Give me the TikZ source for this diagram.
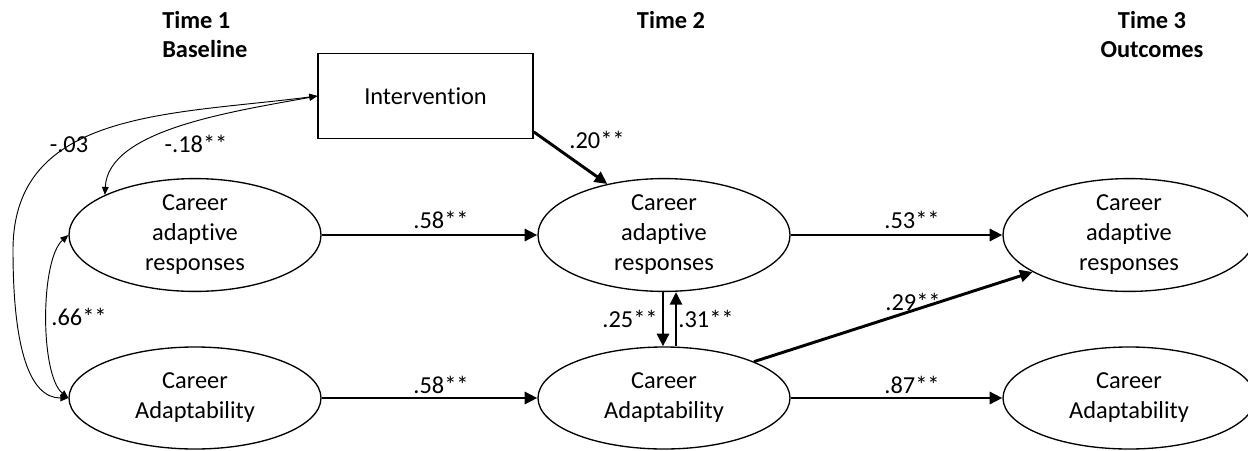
\documentclass[tikz,border=0pt]{standalone}
\usepackage{fontspec}
\setmainfont{Carlito}[Ligatures={NoCommon,NoRequired,NoContextual}]
\usetikzlibrary{shapes.geometric,arrows.meta}
\begin{document}
\begin{tikzpicture}[x=0.75pt,y=-0.75pt,
  every node/.style={font=\fontsize{18.3}{22.5}\selectfont},
  lat/.style={ellipse,draw,line width=1pt,minimum width=189pt,minimum height=76.5pt,inner sep=0pt,align=center},
  obs/.style={rectangle,draw,line width=1pt,minimum width=161.25pt,minimum height=63.75pt},
  hdr/.style={font=\fontsize{18.3}{22.5}\selectfont\bfseries,inner sep=0pt},
  lbl/.style={anchor=base,inner sep=0pt},
  thickarr/.style={line width=2.2pt,-{Triangle[length=9.5pt,width=9pt]}},
  cov/.style={line width=0.7pt,{Triangle[length=6pt,width=5pt]}-{Triangle[length=6pt,width=5pt]}}
]
\useasboundingbox (0,0) rectangle (1248,450);

% headers
\node[hdr,anchor=base west] (h1a) at (162,28) {Time 1};
\node[hdr,anchor=base west] (h1b) at (162,57) {Baseline};
\node[hdr,anchor=base] (h2) at (671,28) {Time 2};
\node[hdr,anchor=base] (h3a) at (1152,28) {Time 3};
\node[hdr,anchor=base] (h3b) at (1152,57) {Outcomes};

% nodes
\node[obs] (int) at (425.5,96) {Intervention};
\node[lat] (t1car) at (195,235) {Career\\adaptive\\responses};
\node[lat] (t1ca) at (195,398) {Career\\Adaptability};
\node[lat] (t2car) at (664,235) {Career\\adaptive\\responses};
\node[lat] (t2ca) at (664,398) {Career\\Adaptability};
\node[lat] (t3car) at (1129,235) {Career\\adaptive\\responses};
\node[lat] (t3ca) at (1129,398) {Career\\Adaptability};

% regression paths
\draw[thickarr] (t1car.east) -- (t2car.west);
\draw[thickarr] (t1ca.east) -- (t2ca.west);
\draw[thickarr] (t2car.east) -- (t3car.west);
\draw[thickarr] (t2ca.east) -- (t3ca.west);
\draw[thickarr] (t2ca.22) -- (t3car.201);
\draw[thickarr] ([yshift=5.5pt]int.south east) -- (t2car.138);
\draw[thickarr] ([xshift=-0.75pt]t2car.south) -- ([xshift=-0.75pt]t2ca.north);
\draw[thickarr] ([xshift=9pt]t2ca.north) -- ([xshift=9pt]t2car.south);

% covariances
\draw[cov] (t1ca.west) .. controls (30,398) and (13,350) .. (13,250)
  .. controls (13,110) and (170,115) .. (int.west);
\draw[cov] (int.west) .. controls (230,112) and (108,130) .. (t1car.156);
\draw[cov] (t1car.west) .. controls (40,260) and (40,375) .. (t1ca.west);

% labels
\node[lbl] (l1) at (441,228) {.58**};
\node[lbl] (l2) at (441,393) {.58**};
\node[lbl] (l3) at (912,228) {.53**};
\node[lbl] (l4) at (912,393) {.87**};
\node[lbl] (l5) at (913,310) {.29**};
\node[lbl] (l6) at (597,148) {.20**};
\node[lbl] (l7) at (69,152) {-.03};
\node[lbl] (l8) at (196,152) {-.18**};
\node[lbl] (l9) at (79,325) {.66**};
\node[lbl] (l10) at (630,327) {.25**};
\node[lbl] (l11) at (706,327) {.31**};
\end{tikzpicture}
\end{document}
